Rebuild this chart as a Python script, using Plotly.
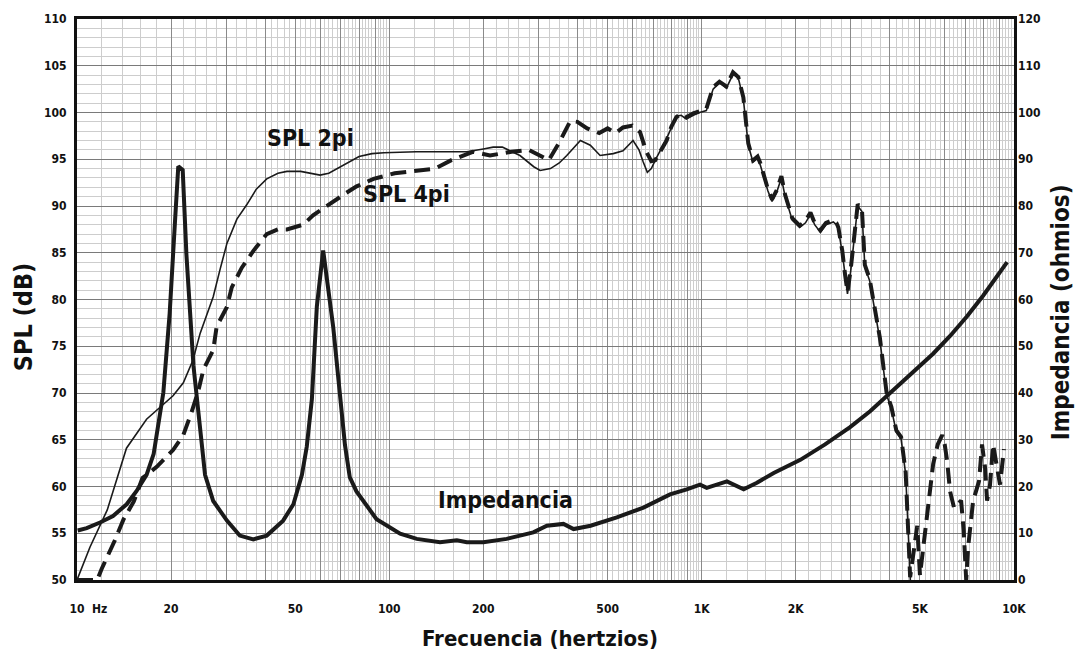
import plotly.graph_objects as go

# ---------------- data ----------------
spl2_freq = [10, 11, 12.5, 14.4, 16.7, 18.5, 20.3, 21.9, 23.5, 24.8, 27.3, 28.7, 30.2, 32.5, 34.9, 37.5,
             40.5, 44, 47, 52, 56, 60, 64, 68, 74, 80, 88, 96, 122, 177, 200, 215, 230, 262, 290, 304,
             328, 350, 370, 390, 409, 440, 473, 521, 560, 603, 630, 650, 670, 690, 715, 772, 830, 860,
             893, 940, 985, 1035, 1088, 1140, 1200, 1260, 1310, 1360, 1410, 1460, 1510, 1540, 1630,
             1680, 1740, 1800, 1850, 1950, 2060, 2150, 2230, 2300, 2400, 2500, 2640, 2700, 2740, 2820,
             2880, 2930, 3000, 3070, 3160, 3260, 3330, 3450, 3600, 3720, 3910, 4050, 4200, 4350, 4500,
             4580, 4650, 4700]
spl2_db = [50.0, 53.5, 57.5, 64.1, 67.2, 68.5, 69.7, 71.1, 73.5, 76.4, 80.3, 83.2, 86.0, 88.6, 90.1, 91.8,
           92.9, 93.5, 93.7, 93.7, 93.5, 93.3, 93.5, 94.0, 94.7, 95.3, 95.6, 95.7, 95.8, 95.8, 96.1, 96.3,
           96.3, 95.4, 94.2, 93.8, 94.0, 94.6, 95.4, 96.3, 97.0, 96.5, 95.4, 95.6, 95.9, 97.0, 96.0, 94.7,
           93.6, 94.0, 95.1, 97.2, 99.6, 99.7, 99.3, 99.7, 100.0, 100.2, 102.5, 103.2, 102.6, 104.1,
           103.7, 101.4, 96.5, 94.7, 95.1, 94.4, 91.6, 90.5, 91.5, 93.0, 91.0, 88.5, 87.7, 88.2, 89.1,
           88.0, 87.2, 88.0, 88.3, 88.0, 87.5, 85.0, 82.4, 80.6, 83.0, 85.9, 90.0, 89.4, 83.5, 82.0,
           78.5, 75.7, 69.8, 68.3, 65.8, 65.1, 61.3, 55.6, 50.0, 47.0]

spl4_freq = [10, 11.6, 12.0, 12.4, 13.2, 14.1, 15.2, 16.2, 18.0, 20.3, 21.9, 23.3, 24.4, 25.4, 27.3, 28,
             30.2, 31.3, 33.7, 36.7, 40.5, 44, 47, 53, 57, 60.6, 68, 72, 78.6, 89, 104, 119, 140, 158,
             185, 210, 246, 280, 300, 324, 350, 380, 400, 430, 470, 500, 530, 560, 600, 635, 665, 690,
             710, 772, 800, 830, 860, 893, 940, 985, 1035, 1088, 1140, 1200, 1260, 1310, 1360, 1410,
             1460, 1510, 1540, 1630, 1680, 1740, 1800, 1850, 1950, 2060, 2150, 2230, 2300, 2400, 2500,
             2640, 2700, 2740, 2820, 2880, 2930, 3000, 3070, 3160, 3260, 3330, 3450, 3600, 3720, 3910,
             4050, 4200, 4350, 4500, 4580, 4650, 4900, 5000, 5200, 5300, 5400, 5510, 5700, 5890, 6000,
             6110, 6240, 6430, 6570, 6770, 6900, 7030, 7130, 7400, 7560, 7730, 7900, 8080, 8200, 8380,
             8570, 8830, 9020, 9290]
spl4_db = [50.0, 50.0, 51.2, 52.2, 54.2, 56.5, 58.4, 60.9, 62.1, 63.9, 65.5, 68.0, 70.1, 72.5, 74.6, 77.1,
           79.2, 81.3, 83.4, 85.2, 87.0, 87.5, 87.5, 88.0, 89.0, 89.6, 90.8, 91.3, 92.1, 92.9, 93.5, 93.7,
           94.0, 94.9, 95.8, 95.4, 95.8, 96.0, 95.5, 94.9, 96.8, 99.1, 99.0, 98.3, 97.8, 98.3, 97.8, 98.4,
           98.6, 97.9, 95.8, 94.8, 94.9, 97.0, 98.5, 99.5, 99.9, 99.5, 99.9, 100.1, 100.4, 102.7, 103.3,
           102.8, 104.3, 103.8, 101.6, 96.7, 94.9, 95.3, 94.6, 91.8, 90.7, 91.7, 93.2, 91.2, 88.7, 87.9,
           88.4, 89.3, 88.2, 87.4, 88.2, 88.5, 88.2, 87.7, 85.2, 82.6, 80.8, 83.2, 86.1, 90.2, 89.6, 83.7,
           82.2, 78.7, 75.9, 70.0, 68.5, 66.0, 65.3, 61.5, 55.8, 50.3, 55.8, 50.5, 55.3, 57.4, 60.0, 62.4,
           64.5, 65.5, 64.5, 62.7, 59.5, 57.7, 58.0, 58.5, 55.3, 50.0, 53.5, 58.5, 59.5, 60.6, 64.5, 62.0,
           58.5, 60.2, 64.5, 62.2, 60.2, 64.0]

imp_freq = [10.05, 10.74, 11.85, 13.04, 14.42, 15.5, 16.7, 17.6, 18.9, 19.8, 20.6, 21.1, 21.8, 22.4, 23.6,
            24.8, 25.7, 27.3, 30.2, 33.2, 36.7, 40.5, 45.7, 49.3, 52.5, 54.4, 56.5, 58.6, 61.4, 66.1, 69.4,
            72.1, 74.7, 78.4, 91, 108.3, 122.4, 145.3, 164.5, 177, 200, 237.5, 289, 319.5, 361, 389, 441,
            535, 651, 792, 896, 988, 1038, 1205, 1363, 1503, 1701, 2070, 2484, 2987, 3462, 3890, 4648,
            5508, 6243, 7076, 7962, 8700, 9506]
imp_ohm = [10.6, 11.1, 12.3, 13.7, 16.2, 19.0, 22.5, 27.0, 40.1, 57.0, 76.8, 88.5, 87.7, 69.7, 45.8,
           31.7, 22.5, 16.9, 12.7, 9.5, 8.7, 9.5, 12.7, 16.2, 22.5, 28.5, 38.7, 58.5, 70.5, 54.2, 40.1,
           28.9, 22.0, 19.0, 13.0, 9.9, 8.8, 8.1, 8.5, 8.1, 8.1, 8.8, 10.2, 11.6, 12.0, 10.9, 11.6, 13.4,
           15.5, 18.3, 19.4, 20.4, 19.7, 21.1, 19.4, 20.8, 22.9, 25.7, 29.0, 32.7, 36.1, 39.2, 43.7,
           48.4, 52.2, 56.4, 60.8, 64.5, 68.0]

x_major_vals = [10, 20, 30, 40, 50, 60, 70, 80, 90, 100, 200, 300, 400, 500, 600, 700, 800, 900,
                1000, 2000, 3000, 4000, 5000, 6000, 7000, 8000, 9000, 10000]
x_labels = {10: "10", 20: "20", 50: "50", 100: "100", 200: "200", 500: "500",
            1000: "1K", 2000: "2K", 5000: "5K", 10000: "10K"}
spl_ticks = [50, 55, 60, 65, 70, 75, 80, 85, 90, 95, 100, 105, 110]
imp_ticks = [0, 10, 20, 30, 40, 50, 60, 70, 80, 90, 100, 110, 120]

# minor vertical grid positions (log paper subdivisions)
minor_vals = []
for dec in [10, 100, 1000]:
    for start in range(1, 10):
        step = 0.25 if start == 3 else 0.2
        v = start + step
        while v < start + 1 - 1e-6:
            minor_vals.append(round(v * dec, 4))
            v += step

FONT = "DejaVu Sans Condensed, DejaVu Sans, sans-serif"

fig = go.Figure()
fig.add_trace(go.Scatter(x=spl2_freq, y=spl2_db, mode="lines",
                         line=dict(color="#1a1a1a", width=1.6), hoverinfo="skip"))
fig.add_trace(go.Scatter(x=spl4_freq, y=spl4_db, mode="lines",
                         line=dict(color="#1a1a1a", width=4, dash="16px,8px"), hoverinfo="skip"))
fig.add_trace(go.Scatter(x=imp_freq, y=imp_ohm, mode="lines", yaxis="y2",
                         line=dict(color="#1a1a1a", width=4), hoverinfo="skip"))

W, H = 1076, 654
L, R, T, B = 77, 1014, 12, 580


def px(x):
    return (x - L) / (R - L)


def py(y):
    return (B - y) / (B - T)


tick_font = dict(family=FONT, size=12, color="#111", weight="bold")

fig.update_layout(
    width=W, height=H,
    margin=dict(l=L, r=W - R, t=T, b=H - B),
    paper_bgcolor="white", plot_bgcolor="white",
    showlegend=False,
    xaxis=dict(
        type="log", range=[1, 4],
        tickmode="array", tickvals=x_major_vals,
        ticktext=[x_labels.get(v, "") for v in x_major_vals],
        showgrid=True, gridcolor="#8a8a8a", gridwidth=1,
        minor=dict(tickmode="array", tickvals=minor_vals, showgrid=True,
                   gridcolor="#cdcdcd", gridwidth=1, ticks=""),
        showline=True, linecolor="#111", linewidth=3, mirror=True,
        ticks="", ticklabelstandoff=16,
        tickfont=tick_font,
        zeroline=False,
    ),
    yaxis=dict(
        range=[50, 110], tickmode="array", tickvals=spl_ticks,
        showgrid=True, gridcolor="#7a7a7a", gridwidth=1,
        minor=dict(dtick=1, showgrid=True, gridcolor="#cdcdcd", gridwidth=1, ticks=""),
        showline=True, linecolor="#111", linewidth=3, mirror=True,
        ticks="", ticklabelstandoff=5,
        tickfont=tick_font,
        zeroline=False,
    ),
    yaxis2=dict(
        range=[0, 120], overlaying="y", side="right",
        tickmode="array", tickvals=imp_ticks, showgrid=False,
        ticks="", ticklabelstandoff=3,
        tickfont=tick_font,
        zeroline=False, showline=False,
    ),
)

ann_font = dict(family=FONT, size=23, color="#111", weight="bold")
annotations = [
    dict(text="SPL 2pi", x=px(310), y=py(132), font=ann_font),
    dict(text="SPL 4pi", x=px(406), y=py(189), font=ann_font),
    dict(text="Impedancia", x=px(505), y=py(499), font=ann_font),
    dict(text="SPL (dB)", x=px(23), y=py(314), textangle=-90,
         font=dict(family=FONT, size=25, color="#111", weight="bold")),
    dict(text="Impedancia (ohmios)", x=px(1061), y=py(309), textangle=-90,
         font=dict(family=FONT, size=24, color="#111", weight="bold")),
    dict(text="Frecuencia (hertzios)", x=px(540), y=py(639),
         font=dict(family=FONT, size=22, color="#111", weight="bold")),
    dict(text="Hz", x=px(99), y=py(609),
         font=dict(family=FONT, size=12, color="#111", weight="bold")),
]
for a in annotations:
    a.update(xref="paper", yref="paper", showarrow=False, xanchor="center", yanchor="middle")
fig.update_layout(annotations=annotations)

fig.write_html("out.html")
